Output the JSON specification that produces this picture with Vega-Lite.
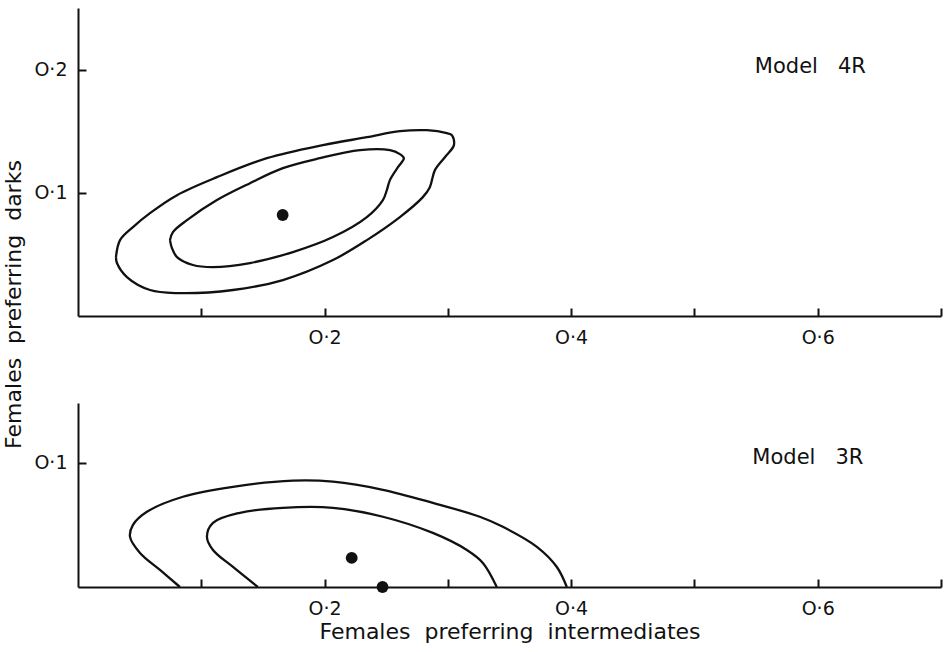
{
  "$schema": "https://vega.github.io/schema/vega-lite/v6.json",
  "background": "white",
  "padding": {"left": 2, "top": 8, "right": 5, "bottom": 5},
  "spacing": 87,
  "bounds": "flush",
  "config": {
    "view": {"stroke": null},
    "font": "DejaVu Sans",
    "axis": {
      "grid": false,
      "domainColor": "#111",
      "domainWidth": 2,
      "tickColor": "#111",
      "tickWidth": 2,
      "tickSize": -8,
      "labelFont": "DejaVu Sans",
      "labelFontSize": 19,
      "labelColor": "#111",
      "labelOverlap": false,
      "labelFlush": false,
      "titleFont": "DejaVu Sans",
      "titleFontSize": 22,
      "titleFontWeight": "normal",
      "titleColor": "#111"
    }
  },
  "datasets": {
    "top_contours": [
      {"c": "outer", "i": 1, "x": 0.0308, "y": 0.0478},
      {"c": "outer", "i": 2, "x": 0.0341, "y": 0.0616},
      {"c": "outer", "i": 3, "x": 0.0446, "y": 0.0722},
      {"c": "outer", "i": 4, "x": 0.0584, "y": 0.0835},
      {"c": "outer", "i": 5, "x": 0.0803, "y": 0.0981},
      {"c": "outer", "i": 6, "x": 0.1127, "y": 0.1127},
      {"c": "outer", "i": 7, "x": 0.1532, "y": 0.1281},
      {"c": "outer", "i": 8, "x": 0.1986, "y": 0.1387},
      {"c": "outer", "i": 9, "x": 0.2343, "y": 0.1451},
      {"c": "outer", "i": 10, "x": 0.2611, "y": 0.15},
      {"c": "outer", "i": 11, "x": 0.283, "y": 0.1508},
      {"c": "outer", "i": 12, "x": 0.2992, "y": 0.1484},
      {"c": "outer", "i": 13, "x": 0.3033, "y": 0.1468},
      {"c": "outer", "i": 14, "x": 0.3049, "y": 0.1387},
      {"c": "outer", "i": 15, "x": 0.2976, "y": 0.1289},
      {"c": "outer", "i": 16, "x": 0.2895, "y": 0.1184},
      {"c": "outer", "i": 17, "x": 0.2854, "y": 0.1046},
      {"c": "outer", "i": 18, "x": 0.2797, "y": 0.0965},
      {"c": "outer", "i": 19, "x": 0.2611, "y": 0.0803},
      {"c": "outer", "i": 20, "x": 0.2343, "y": 0.0616},
      {"c": "outer", "i": 21, "x": 0.2068, "y": 0.0454},
      {"c": "outer", "i": 22, "x": 0.1662, "y": 0.0292},
      {"c": "outer", "i": 23, "x": 0.1257, "y": 0.0211},
      {"c": "outer", "i": 24, "x": 0.0803, "y": 0.0186},
      {"c": "outer", "i": 25, "x": 0.0584, "y": 0.0211},
      {"c": "outer", "i": 26, "x": 0.0397, "y": 0.0316},
      {"c": "outer", "i": 27, "x": 0.0316, "y": 0.043},
      {"c": "outer", "i": 28, "x": 0.0308, "y": 0.0478},
      {"c": "inner", "i": 1, "x": 0.0746, "y": 0.0616},
      {"c": "inner", "i": 2, "x": 0.077, "y": 0.0681},
      {"c": "inner", "i": 3, "x": 0.0884, "y": 0.0778},
      {"c": "inner", "i": 4, "x": 0.1127, "y": 0.0941},
      {"c": "inner", "i": 5, "x": 0.1395, "y": 0.1078},
      {"c": "inner", "i": 6, "x": 0.1662, "y": 0.12},
      {"c": "inner", "i": 7, "x": 0.1962, "y": 0.1281},
      {"c": "inner", "i": 8, "x": 0.2287, "y": 0.1346},
      {"c": "inner", "i": 9, "x": 0.253, "y": 0.1346},
      {"c": "inner", "i": 10, "x": 0.2611, "y": 0.1314},
      {"c": "inner", "i": 11, "x": 0.2643, "y": 0.1281},
      {"c": "inner", "i": 12, "x": 0.2595, "y": 0.1208},
      {"c": "inner", "i": 13, "x": 0.253, "y": 0.1103},
      {"c": "inner", "i": 14, "x": 0.2505, "y": 0.1022},
      {"c": "inner", "i": 15, "x": 0.2473, "y": 0.0941},
      {"c": "inner", "i": 16, "x": 0.2343, "y": 0.0803},
      {"c": "inner", "i": 17, "x": 0.2068, "y": 0.0641},
      {"c": "inner", "i": 18, "x": 0.1743, "y": 0.0519},
      {"c": "inner", "i": 19, "x": 0.1395, "y": 0.043},
      {"c": "inner", "i": 20, "x": 0.1095, "y": 0.0397},
      {"c": "inner", "i": 21, "x": 0.0932, "y": 0.0414},
      {"c": "inner", "i": 22, "x": 0.0803, "y": 0.0478},
      {"c": "inner", "i": 23, "x": 0.0762, "y": 0.0551},
      {"c": "inner", "i": 24, "x": 0.0746, "y": 0.0616}
    ],
    "bottom_contours": [
      {"c": "outer", "i": 1, "x": 0.0827, "y": 0},
      {"c": "outer", "i": 2, "x": 0.0665, "y": 0.0137},
      {"c": "outer", "i": 3, "x": 0.0503, "y": 0.0274},
      {"c": "outer", "i": 4, "x": 0.0422, "y": 0.0403},
      {"c": "outer", "i": 5, "x": 0.0446, "y": 0.05},
      {"c": "outer", "i": 6, "x": 0.0559, "y": 0.0605},
      {"c": "outer", "i": 7, "x": 0.0851, "y": 0.0726},
      {"c": "outer", "i": 8, "x": 0.1257, "y": 0.0806},
      {"c": "outer", "i": 9, "x": 0.1743, "y": 0.0855},
      {"c": "outer", "i": 10, "x": 0.2068, "y": 0.0847},
      {"c": "outer", "i": 11, "x": 0.2473, "y": 0.0782},
      {"c": "outer", "i": 12, "x": 0.2878, "y": 0.0677},
      {"c": "outer", "i": 13, "x": 0.3259, "y": 0.0565},
      {"c": "outer", "i": 14, "x": 0.3446, "y": 0.0484},
      {"c": "outer", "i": 15, "x": 0.3722, "y": 0.0323},
      {"c": "outer", "i": 16, "x": 0.3884, "y": 0.0161},
      {"c": "outer", "i": 17, "x": 0.3965, "y": 0},
      {"c": "inner", "i": 1, "x": 0.1459, "y": 0},
      {"c": "inner", "i": 2, "x": 0.1257, "y": 0.0161},
      {"c": "inner", "i": 3, "x": 0.1095, "y": 0.0298},
      {"c": "inner", "i": 4, "x": 0.1046, "y": 0.0403},
      {"c": "inner", "i": 5, "x": 0.1095, "y": 0.0516},
      {"c": "inner", "i": 6, "x": 0.1314, "y": 0.0597},
      {"c": "inner", "i": 7, "x": 0.1662, "y": 0.0637},
      {"c": "inner", "i": 8, "x": 0.2068, "y": 0.0637},
      {"c": "inner", "i": 9, "x": 0.2473, "y": 0.0565},
      {"c": "inner", "i": 10, "x": 0.2878, "y": 0.0435},
      {"c": "inner", "i": 11, "x": 0.3154, "y": 0.0298},
      {"c": "inner", "i": 12, "x": 0.3284, "y": 0.0194},
      {"c": "inner", "i": 13, "x": 0.3397, "y": 0}
    ],
    "top_points": [{"x": 0.166, "y": 0.082}],
    "bottom_points": [{"x": 0.222, "y": 0.0234}, {"x": 0.247, "y": 0}],
    "top_labels": [{"x": 0.549, "y": 0.202, "label": "Model\u00a0\u00a0\u00a04R"}],
    "bottom_labels": [{"x": 0.547, "y": 0.104, "label": "Model\u00a0\u00a0\u00a03R"}]
  },
  "vconcat": [
    {
      "width": 863,
      "height": 308,
      "layer": [
        {
          "data": {"name": "top_contours"},
          "mark": {"type": "line", "color": "#111", "strokeWidth": 2.3, "interpolate": "catmull-rom"},
          "encoding": {
            "x": {"field": "x", "type": "quantitative", "scale": {"domain": [0, 0.7], "nice": false},
              "axis": {"title": null, "values": [0.1, 0.2, 0.3, 0.4, 0.5, 0.6, 0.7], "labelPadding": 20,
                "labelExpr": "round(datum.value*10) % 2 == 0 ? 'O·' + round(datum.value*10) : ''"}},
            "y": {"field": "y", "type": "quantitative", "scale": {"domain": [0, 0.25], "nice": false},
              "axis": {"title": "Females\u00a0\u00a0preferring\u00a0\u00a0darks", "titleX": -53, "titleY": 296, "values": [0.1, 0.2], "labelPadding": 19,
                "labelExpr": "'O·' + round(datum.value*10)"}},
            "order": {"field": "i", "type": "quantitative"},
            "detail": {"field": "c"}
          }
        },
        {
          "data": {"name": "top_points"},
          "mark": {"type": "point", "filled": true, "color": "#111", "size": 140, "opacity": 1},
          "encoding": {
            "x": {"field": "x", "type": "quantitative"},
            "y": {"field": "y", "type": "quantitative"}
          }
        },
        {
          "data": {"name": "top_labels"},
          "mark": {"type": "text", "align": "left", "baseline": "middle", "fontSize": 21, "font": "DejaVu Sans", "color": "#111"},
          "encoding": {
            "x": {"field": "x", "type": "quantitative"},
            "y": {"field": "y", "type": "quantitative"},
            "text": {"field": "label"}
          }
        }
      ]
    },
    {
      "width": 863,
      "height": 184,
      "layer": [
        {
          "data": {"name": "bottom_contours"},
          "mark": {"type": "line", "color": "#111", "strokeWidth": 2.3, "interpolate": "catmull-rom"},
          "encoding": {
            "x": {"field": "x", "type": "quantitative", "scale": {"domain": [0, 0.7], "nice": false},
              "axis": {"title": "Females\u00a0\u00a0preferring\u00a0\u00a0intermediates", "titlePadding": 3, "values": [0.1, 0.2, 0.3, 0.4, 0.5, 0.6, 0.7], "labelPadding": 20,
                "labelExpr": "round(datum.value*10) % 2 == 0 ? 'O·' + round(datum.value*10) : ''"}},
            "y": {"field": "y", "type": "quantitative", "scale": {"domain": [0, 0.148], "nice": false},
              "axis": {"title": null, "values": [0.1], "labelPadding": 19,
                "labelExpr": "'O·' + round(datum.value*10)"}},
            "order": {"field": "i", "type": "quantitative"},
            "detail": {"field": "c"}
          }
        },
        {
          "data": {"name": "bottom_points"},
          "mark": {"type": "point", "filled": true, "color": "#111", "size": 140, "opacity": 1},
          "encoding": {
            "x": {"field": "x", "type": "quantitative"},
            "y": {"field": "y", "type": "quantitative"}
          }
        },
        {
          "data": {"name": "bottom_labels"},
          "mark": {"type": "text", "align": "left", "baseline": "middle", "fontSize": 21, "font": "DejaVu Sans", "color": "#111"},
          "encoding": {
            "x": {"field": "x", "type": "quantitative"},
            "y": {"field": "y", "type": "quantitative"},
            "text": {"field": "label"}
          }
        }
      ]
    }
  ]
}
